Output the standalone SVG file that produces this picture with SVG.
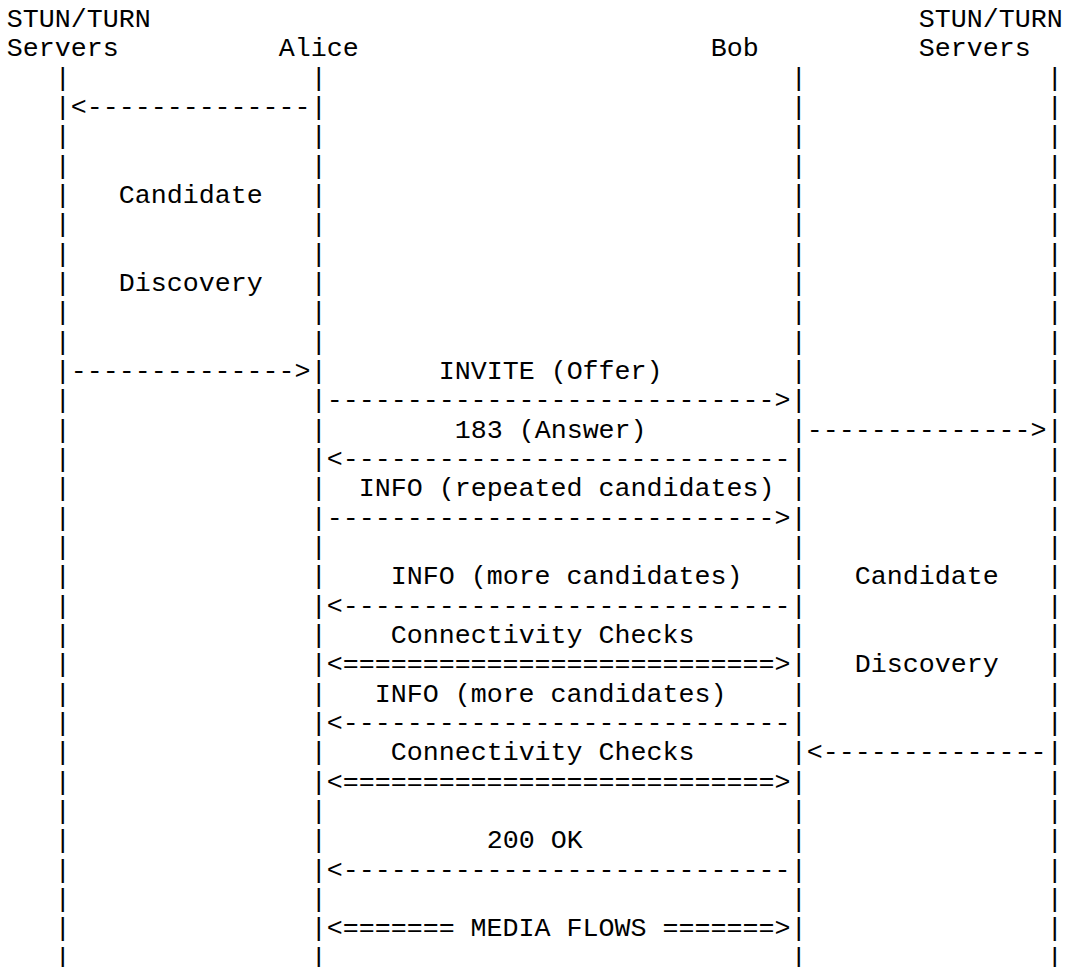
<svg xmlns="http://www.w3.org/2000/svg" width="1066" height="967" viewBox="0 0 1066 967">
<style>
text { font-family: "Liberation Mono", "Courier New", monospace; font-size: 26.667px; fill: #000; white-space: pre; }
</style>
<rect x="0" y="0" width="1066" height="967" fill="#fff"/>
<g id="stun-left">
<text x="6.67" y="27">STUN/TURN</text>
<text x="6.67" y="56.33">Servers</text>
<text x="54.67" y="85.67">|<tspan x="54.67" dy="29.33">|</tspan><tspan x="54.67" dy="29.33">|</tspan><tspan x="54.67" dy="29.33">|</tspan><tspan x="54.67" dy="29.33">|</tspan><tspan x="54.67" dy="29.33">|</tspan><tspan x="54.67" dy="29.33">|</tspan><tspan x="54.67" dy="29.33">|</tspan><tspan x="54.67" dy="29.33">|</tspan><tspan x="54.67" dy="29.33">|</tspan><tspan x="54.67" dy="29.33">|</tspan><tspan x="54.67" dy="29.33">|</tspan><tspan x="54.67" dy="29.33">|</tspan><tspan x="54.67" dy="29.33">|</tspan><tspan x="54.67" dy="29.33">|</tspan><tspan x="54.67" dy="29.33">|</tspan><tspan x="54.67" dy="29.33">|</tspan><tspan x="54.67" dy="29.33">|</tspan><tspan x="54.67" dy="29.33">|</tspan><tspan x="54.67" dy="29.33">|</tspan><tspan x="54.67" dy="29.33">|</tspan><tspan x="54.67" dy="29.33">|</tspan><tspan x="54.67" dy="29.33">|</tspan><tspan x="54.67" dy="29.33">|</tspan><tspan x="54.67" dy="29.33">|</tspan><tspan x="54.67" dy="29.33">|</tspan><tspan x="54.67" dy="29.33">|</tspan><tspan x="54.67" dy="29.33">|</tspan><tspan x="54.67" dy="29.33">|</tspan><tspan x="54.67" dy="29.33">|</tspan><tspan x="54.67" dy="29.33">|</tspan></text>
<text x="118.67" y="203">Candidate</text>
<text x="118.67" y="291">Discovery</text>
</g>
<g id="alice">
<text x="278.67" y="56.33">Alice</text>
<text x="310.67" y="85.67">|<tspan x="310.67" dy="29.33">|</tspan><tspan x="310.67" dy="29.33">|</tspan><tspan x="310.67" dy="29.33">|</tspan><tspan x="310.67" dy="29.33">|</tspan><tspan x="310.67" dy="29.33">|</tspan><tspan x="310.67" dy="29.33">|</tspan><tspan x="310.67" dy="29.33">|</tspan><tspan x="310.67" dy="29.33">|</tspan><tspan x="310.67" dy="29.33">|</tspan><tspan x="310.67" dy="29.33">|</tspan><tspan x="310.67" dy="29.33">|</tspan><tspan x="310.67" dy="29.33">|</tspan><tspan x="310.67" dy="29.33">|</tspan><tspan x="310.67" dy="29.33">|</tspan><tspan x="310.67" dy="29.33">|</tspan><tspan x="310.67" dy="29.33">|</tspan><tspan x="310.67" dy="29.33">|</tspan><tspan x="310.67" dy="29.33">|</tspan><tspan x="310.67" dy="29.33">|</tspan><tspan x="310.67" dy="29.33">|</tspan><tspan x="310.67" dy="29.33">|</tspan><tspan x="310.67" dy="29.33">|</tspan><tspan x="310.67" dy="29.33">|</tspan><tspan x="310.67" dy="29.33">|</tspan><tspan x="310.67" dy="29.33">|</tspan><tspan x="310.67" dy="29.33">|</tspan><tspan x="310.67" dy="29.33">|</tspan><tspan x="310.67" dy="29.33">|</tspan><tspan x="310.67" dy="29.33">|</tspan><tspan x="310.67" dy="29.33">|</tspan></text>
</g>
<g id="bob">
<text x="710.67" y="56.33">Bob</text>
<text x="790.67" y="85.67">|<tspan x="790.67" dy="29.33">|</tspan><tspan x="790.67" dy="29.33">|</tspan><tspan x="790.67" dy="29.33">|</tspan><tspan x="790.67" dy="29.33">|</tspan><tspan x="790.67" dy="29.33">|</tspan><tspan x="790.67" dy="29.33">|</tspan><tspan x="790.67" dy="29.33">|</tspan><tspan x="790.67" dy="29.33">|</tspan><tspan x="790.67" dy="29.33">|</tspan><tspan x="790.67" dy="29.33">|</tspan><tspan x="790.67" dy="29.33">|</tspan><tspan x="790.67" dy="29.33">|</tspan><tspan x="790.67" dy="29.33">|</tspan><tspan x="790.67" dy="29.33">|</tspan><tspan x="790.67" dy="29.33">|</tspan><tspan x="790.67" dy="29.33">|</tspan><tspan x="790.67" dy="29.33">|</tspan><tspan x="790.67" dy="29.33">|</tspan><tspan x="790.67" dy="29.33">|</tspan><tspan x="790.67" dy="29.33">|</tspan><tspan x="790.67" dy="29.33">|</tspan><tspan x="790.67" dy="29.33">|</tspan><tspan x="790.67" dy="29.33">|</tspan><tspan x="790.67" dy="29.33">|</tspan><tspan x="790.67" dy="29.33">|</tspan><tspan x="790.67" dy="29.33">|</tspan><tspan x="790.67" dy="29.33">|</tspan><tspan x="790.67" dy="29.33">|</tspan><tspan x="790.67" dy="29.33">|</tspan><tspan x="790.67" dy="29.33">|</tspan></text>
</g>
<g id="stun-right">
<text x="918.67" y="27">STUN/TURN</text>
<text x="918.67" y="56.33">Servers</text>
<text x="1046.67" y="85.67">|<tspan x="1046.67" dy="29.33">|</tspan><tspan x="1046.67" dy="29.33">|</tspan><tspan x="1046.67" dy="29.33">|</tspan><tspan x="1046.67" dy="29.33">|</tspan><tspan x="1046.67" dy="29.33">|</tspan><tspan x="1046.67" dy="29.33">|</tspan><tspan x="1046.67" dy="29.33">|</tspan><tspan x="1046.67" dy="29.33">|</tspan><tspan x="1046.67" dy="29.33">|</tspan><tspan x="1046.67" dy="29.33">|</tspan><tspan x="1046.67" dy="29.33">|</tspan><tspan x="1046.67" dy="29.33">|</tspan><tspan x="1046.67" dy="29.33">|</tspan><tspan x="1046.67" dy="29.33">|</tspan><tspan x="1046.67" dy="29.33">|</tspan><tspan x="1046.67" dy="29.33">|</tspan><tspan x="1046.67" dy="29.33">|</tspan><tspan x="1046.67" dy="29.33">|</tspan><tspan x="1046.67" dy="29.33">|</tspan><tspan x="1046.67" dy="29.33">|</tspan><tspan x="1046.67" dy="29.33">|</tspan><tspan x="1046.67" dy="29.33">|</tspan><tspan x="1046.67" dy="29.33">|</tspan><tspan x="1046.67" dy="29.33">|</tspan><tspan x="1046.67" dy="29.33">|</tspan><tspan x="1046.67" dy="29.33">|</tspan><tspan x="1046.67" dy="29.33">|</tspan><tspan x="1046.67" dy="29.33">|</tspan><tspan x="1046.67" dy="29.33">|</tspan><tspan x="1046.67" dy="29.33">|</tspan></text>
<text x="854.67" y="584.33">Candidate</text>
<text x="854.67" y="672.33">Discovery</text>
</g>
<g id="connectors">
<text x="70.67" y="115">&lt;--------------</text>
<text x="70.67" y="379">--------------&gt;</text>
<text x="438.67" y="379">INVITE (Offer)</text>
<text x="326.67" y="408.33">----------------------------&gt;</text>
<text x="454.67" y="437.67">183 (Answer)</text>
<text x="806.67" y="437.67">--------------&gt;</text>
<text x="326.67" y="467">&lt;----------------------------</text>
<text x="358.67" y="496.33">INFO (repeated candidates)</text>
<text x="326.67" y="525.67">----------------------------&gt;</text>
<text x="390.67" y="584.33">INFO (more candidates)</text>
<text x="326.67" y="613.67">&lt;----------------------------</text>
<text x="390.67" y="643">Connectivity Checks</text>
<text x="326.67" y="672.33">&lt;===========================&gt;</text>
<text x="374.67" y="701.67">INFO (more candidates)</text>
<text x="326.67" y="731">&lt;----------------------------</text>
<text x="390.67" y="760.33">Connectivity Checks</text>
<text x="806.67" y="760.33">&lt;--------------</text>
<text x="326.67" y="789.67">&lt;===========================&gt;</text>
<text x="486.67" y="848.33">200 OK</text>
<text x="326.67" y="877.67">&lt;----------------------------</text>
<text x="326.67" y="936.33">&lt;======= MEDIA FLOWS =======&gt;</text>
</g>
</svg>
